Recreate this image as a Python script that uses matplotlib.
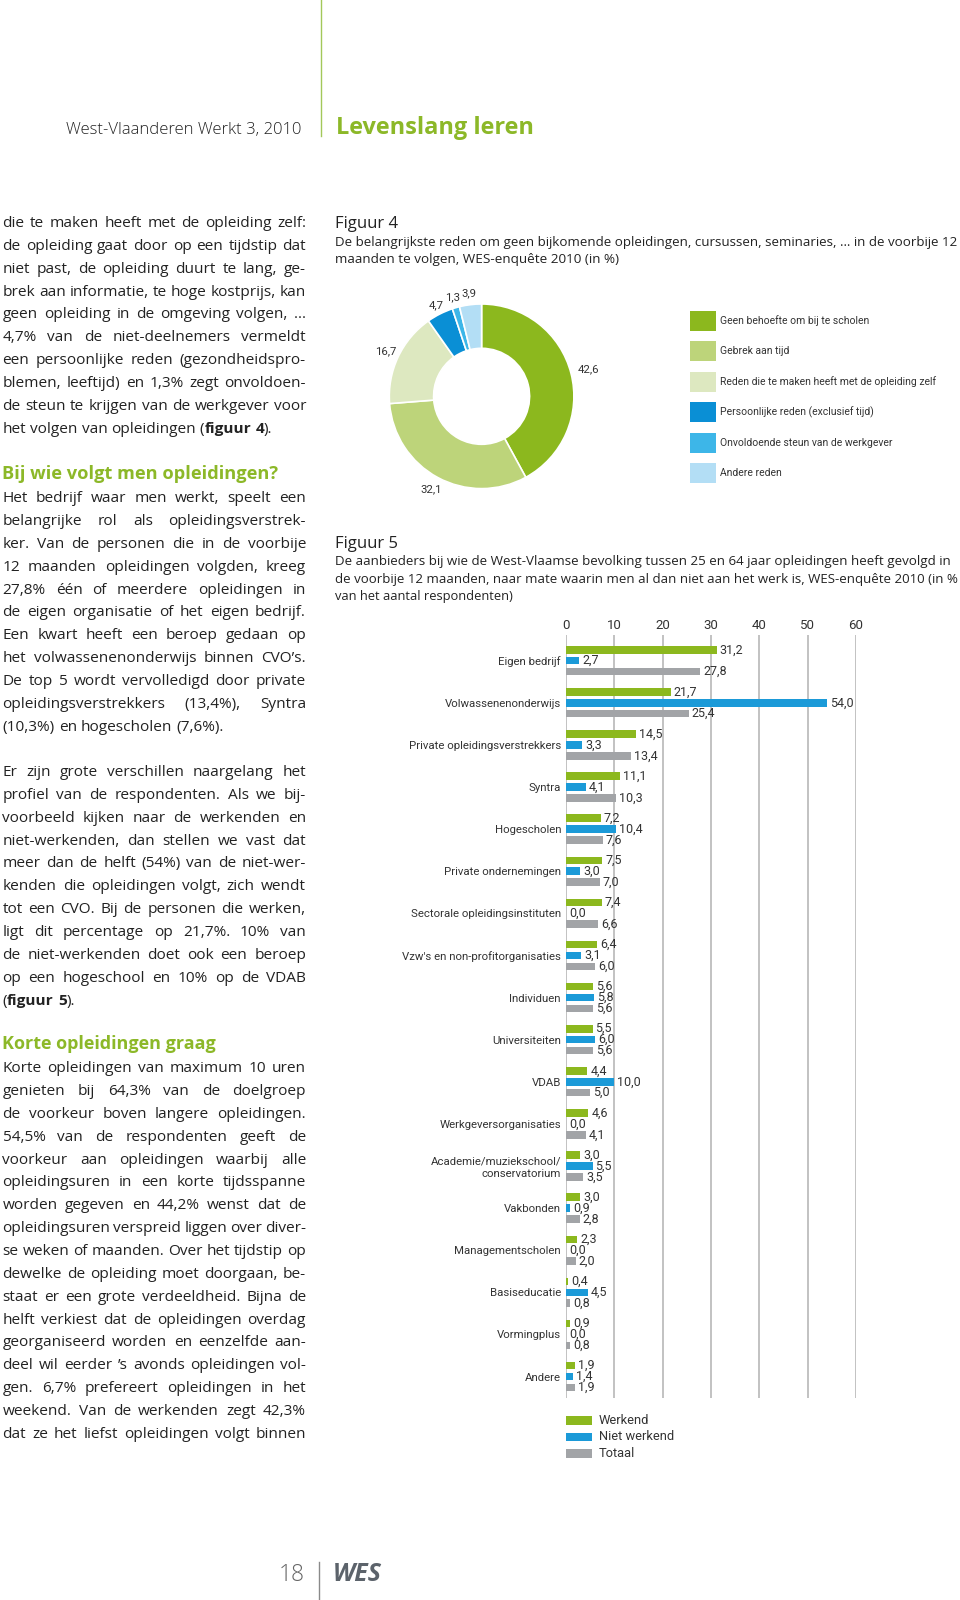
import matplotlib
matplotlib.use('Agg')
import numpy as np
import matplotlib.pyplot as plt
from matplotlib import font_manager
from matplotlib.patches import Rectangle


# ---- figure 4 data ----
reasons = ['Geen behoefte om bij te scholen', 'Gebrek aan tijd',
           'Reden die te maken heeft met de opleiding zelf',
           'Persoonlijke reden (exclusief tijd)',
           'Onvoldoende steun van de werkgever', 'Andere reden']
reason_pct = [42.6, 32.1, 16.7, 4.7, 1.3, 3.9]
reason_colors = ['#8cb81e', '#bdd47a', '#dde8c0', '#0a8fd5', '#3db6e8', '#b3def5']

# ---- figure 5 data ----
providers = ['Eigen bedrijf', 'Volwassenenonderwijs', 'Private opleidingsverstrekkers',
             'Syntra', 'Hogescholen', 'Private ondernemingen',
             'Sectorale opleidingsinstituten', "Vzw's en non-profitorganisaties",
             'Individuen', 'Universiteiten', 'VDAB', 'Werkgeversorganisaties',
             'Academie/muziekschool/\nconservatorium', 'Vakbonden', 'Managementscholen',
             'Basiseducatie', 'Vormingplus', 'Andere']
werkend = [31.2, 21.7, 14.5, 11.1, 7.2, 7.5, 7.4, 6.4, 5.6, 5.5, 4.4, 4.6, 3.0, 3.0, 2.3, 0.4, 0.9, 1.9]
niet_werkend = [2.7, 54.0, 3.3, 4.1, 10.4, 3.0, 0.0, 3.1, 5.8, 6.0, 10.0, 0.0, 5.5, 0.9, 0.0, 4.5, 0.0, 1.4]
totaal = [27.8, 25.4, 13.4, 10.3, 7.6, 7.0, 6.6, 6.0, 5.6, 5.6, 5.0, 4.1, 3.5, 2.8, 2.0, 0.8, 0.8, 1.9]
series_names = ['Werkend', 'Niet werkend', 'Totaal']
series_colors = ['#8cb81e', '#1b9ad8', '#a2a4a7']
xticks = [0, 10, 20, 30, 40, 50, 60]

# ---- body text (lines as set on the page, *...* = bold) ----
para1 = ["die te maken heeft met de opleiding zelf:",
         "de opleiding gaat door op een tijdstip dat",
         "niet past, de opleiding duurt te lang, ge-",
         "brek aan informatie, te hoge kostprijs, kan",
         "geen opleiding in de omgeving volgen, \u2026",
         "4,7% van de niet-deelnemers vermeldt",
         "een persoonlijke reden (gezondheidspro-",
         "blemen, leeftijd) en 1,3% zegt onvoldoen-",
         "de steun te krijgen van de werkgever voor",
         "het volgen van opleidingen (*figuur* *4*)."]
para2 = ["Het bedrijf waar men werkt, speelt een",
         "belangrijke rol als opleidingsverstrek-",
         "ker. Van de personen die in de voorbije",
         "12 maanden opleidingen volgden, kreeg",
         "27,8% \u00e9\u00e9n of meerdere opleidingen in",
         "de eigen organisatie of het eigen bedrijf.",
         "Een kwart heeft een beroep gedaan op",
         "het volwassenenonderwijs binnen CVO\u2019s.",
         "De top 5 wordt vervolledigd door private",
         "opleidingsverstrekkers (13,4%), Syntra",
         "(10,3%) en hogescholen (7,6%)."]
para3 = ["Er zijn grote verschillen naargelang het",
         "profiel van de respondenten. Als we bij-",
         "voorbeeld kijken naar de werkenden en",
         "niet-werkenden, dan stellen we vast dat",
         "meer dan de helft (54%) van de niet-wer-",
         "kenden die opleidingen volgt, zich wendt",
         "tot een CVO. Bij de personen die werken,",
         "ligt dit percentage op 21,7%. 10% van",
         "de niet-werkenden doet ook een beroep",
         "op een hogeschool en 10% op de VDAB",
         "(*figuur* *5*)."]
para4 = ["Korte opleidingen van maximum 10 uren",
         "genieten bij 64,3% van de doelgroep",
         "de voorkeur boven langere opleidingen.",
         "54,5% van de respondenten geeft de",
         "voorkeur aan opleidingen waarbij alle",
         "opleidingsuren in een korte tijdsspanne",
         "worden gegeven en 44,2% wenst dat de",
         "opleidingsuren verspreid liggen over diver-",
         "se weken of maanden. Over het tijdstip op",
         "dewelke de opleiding moet doorgaan, be-",
         "staat er een grote verdeeldheid. Bijna de",
         "helft verkiest dat de opleidingen overdag",
         "georganiseerd worden en eenzelfde aan-",
         "deel wil eerder \u2019s avonds opleidingen vol-",
         "gen. 6,7% prefereert opleidingen in het",
         "weekend. Van de werkenden zegt 42,3%",
         "dat ze het liefst opleidingen volgt binnen"]

W, H = 960, 1600
fig = plt.figure(figsize=(W / 100, H / 100), dpi=100)
page = fig.add_axes([0, 0, 1, 1])
page.set_xlim(0, W)
page.set_ylim(H, 0)
page.axis('off')
R = fig.canvas.get_renderer()

available = {f.name for f in font_manager.fontManager.ttflist}
BODY = 'Open Sans'
NARROW = 'Liberation Sans Narrow' if 'Liberation Sans Narrow' in available else 'Roboto'
GREEN = '#8cb828'
INK = '#222222'
LABEL = '#333333'


def px(x0, y0, x1, y1):
    return [x0 / W, 1 - y1 / H, (x1 - x0) / W, (y1 - y0) / H]


_cache = {}
def text_w(s, size, bold=False, family=BODY):
    key = (s, size, bold, family)
    if key not in _cache:
        t = page.text(0, 0, s, fontsize=size, fontweight='bold' if bold else 'normal', family=family)
        _cache[key] = t.get_window_extent(R).width
        t.remove()
    return _cache[key]


def fit_text(x, y, s, width, size=10, **kw):
    t = page.text(x, y, s, fontsize=size, **kw)
    w = t.get_window_extent(R).width
    t.set_fontsize(size * width / w)
    return t


# ---- justified body column ----
X0, X1 = 2.5, 306
split = lambda line: [[(p, k % 2 == 1) for k, p in enumerate(w.split('*')) if p] for w in line.split()]
natural = max(sum(sum(text_w(p, 10, b) for p, b in w) for w in split(l)) + 3 * (len(l.split()) - 1)
              for l in para1 + para2 + para3 + para4)
BSIZE = 10 * (X1 - X0) / natural
LH = 22.85


def paragraph(lines, y_first, justify_last=False):
    sp = text_w('a a', BSIZE) - text_w('aa', BSIZE)
    for i, line in enumerate(lines):
        base = y_first + i * LH + 0.36 * BSIZE / 0.72
        words = split(line)
        widths = [sum(text_w(p, BSIZE, b) for p, b in w) for w in words]
        last = i == len(lines) - 1 and not justify_last
        gap = sp if last or len(words) == 1 else (X1 - X0 - sum(widths)) / (len(words) - 1)
        x = X0
        for w, ww in zip(words, widths):
            for p, b in w:
                page.text(x, base, p, fontsize=BSIZE, fontweight='bold' if b else 'normal',
                          family=BODY, color=INK, va='baseline', ha='left')
                x += text_w(p, BSIZE, b)
            x += gap


paragraph(para1, 221.5)
fit_text(X0, 479, 'Bij wie volgt men opleidingen?', 276, 12, family=BODY,
         fontweight='bold', color=GREEN, va='baseline')
paragraph(para2, 496.7)
paragraph(para3, 770.5)
fit_text(X0, 1049, 'Korte opleidingen graag', 215, 12, family=BODY,
         fontweight='bold', color=GREEN, va='baseline')
paragraph(para4, 1066.7, justify_last=True)

# ---- header / footer ----
page.plot([321, 321], [0, 136], color='#a3c85a', lw=1)
fit_text(66, 134, 'West-Vlaanderen Werkt 3, 2010', 235, 12, family=BODY,
         fontweight='light', color='#222222', va='baseline')
fit_text(336, 134, 'Levenslang leren', 199, 14, family=BODY,
         fontweight='bold', color=GREEN, va='baseline')
page.plot([319, 319], [1562, 1600], color='#8a8a8a', lw=1)
fit_text(279, 1581, '18', 26, 16, family=BODY, fontweight='light', color='#666666', va='baseline')
fit_text(333, 1581, 'WES', 49, 15, family=BODY, fontweight='bold', style='italic',
         color='#5c636b', va='baseline')

# ---- figure 4 ----
page.text(335, 228, 'Figuur 4', fontsize=12, family=BODY, color=INK, va='baseline')
fit_text(335, 246, 'De belangrijkste reden om geen bijkomende opleidingen, cursussen, seminaries, \u2026 in de voorbije 12',
         628, 9, family=BODY, color=INK, va='baseline')
fit_text(335, 263.5, 'maanden te volgen, WES-enqu\u00eate 2010 (in %)', 286, 9, family=BODY,
         color=INK, va='baseline')

cx, cy, r = 481.6, 396.3, 92.3
dax = fig.add_axes(px(cx - r, cy - r, cx + r, cy + r))
wedges, _ = dax.pie(reason_pct, colors=reason_colors, startangle=90, counterclock=False,
                    radius=1, wedgeprops=dict(width=0.48, edgecolor='white', linewidth=1.2))
dax.set_xlim(-1, 1)
dax.set_ylim(-1, 1)
label_dist = [1.2, 1.14, 1.15, 1.1, 1.12, 1.12]
for w, v, d in zip(wedges, reason_pct, label_dist):
    a = np.deg2rad((w.theta1 + w.theta2) / 2)
    dax.text(d * np.cos(a), d * np.sin(a), f'{v:.1f}'.replace('.', ','), fontsize=8.2,
             family=NARROW, color=LABEL, ha='center', va='center', clip_on=False)

for i, (lab, col) in enumerate(zip(reasons, reason_colors)):
    yc = 320.7 + 30.5 * i
    page.add_patch(Rectangle((690, yc - 10), 26, 20, color=col, lw=0))
    page.text(720, yc, lab, fontsize=7.5, family=NARROW, color=LABEL, va='center')

# ---- figure 5 ----
page.text(335, 548, 'Figuur 5', fontsize=12, family=BODY, color=INK, va='baseline')
fit_text(335, 565, 'De aanbieders bij wie de West-Vlaamse bevolking tussen 25 en 64 jaar opleidingen heeft gevolgd in',
         621, 9, family=BODY, color=INK, va='baseline')
fit_text(335, 582.5, 'de voorbije 12 maanden, naar mate waarin men al dan niet aan het werk is, WES-enqu\u00eate 2010 (in %',
         625, 9, family=BODY, color=INK, va='baseline')
fit_text(335, 600, 'van het aantal respondenten)', 179, 9, family=BODY, color=INK, va='baseline')

bax = fig.add_axes(px(566, 635, 855.8, 1398))
pos = np.arange(len(providers))
off, bh = 0.259, 0.18
for k, (vals, col) in enumerate(zip([werkend, niet_werkend, totaal], series_colors)):
    yy = pos + (k - 1) * off
    bax.barh(yy, vals, height=bh, color=col, zorder=3)
    for y, v in zip(yy, vals):
        bax.annotate(f'{v:.1f}'.replace('.', ','), (v, y), xytext=(3, 0), textcoords='offset pixels',
                     va='center', ha='left', fontsize=9, family=NARROW, color=LABEL, zorder=4)

bax.set_xlim(0, 60)
bax.set_ylim(len(providers) - 0.49, -0.61)
bax.set_xticks(xticks)
bax.set_xticklabels([str(t) for t in xticks], fontsize=9.5, family=NARROW, color=LABEL)
bax.xaxis.set_ticks_position('top')
bax.tick_params(axis='x', length=0, pad=2)
bax.set_yticks(pos)
bax.set_yticklabels(providers, fontsize=8.2, family=NARROW, color=LABEL)
bax.tick_params(axis='y', length=0, pad=3.6)
bax.grid(axis='x', color='#b8b8b8', linewidth=1.2, zorder=0)
bax.set_axisbelow(True)
for s in bax.spines.values():
    s.set_visible(False)

for i, (name, col) in enumerate(zip(series_names, series_colors)):
    yc = 1420.3 + 16.5 * i
    page.add_patch(Rectangle((566, yc - 4.3), 25.7, 8.6, color=col, lw=0))
    page.text(599, yc, name, fontsize=9.3, family=NARROW, color=LABEL, va='center')

fig.savefig('out.png', dpi=100)
